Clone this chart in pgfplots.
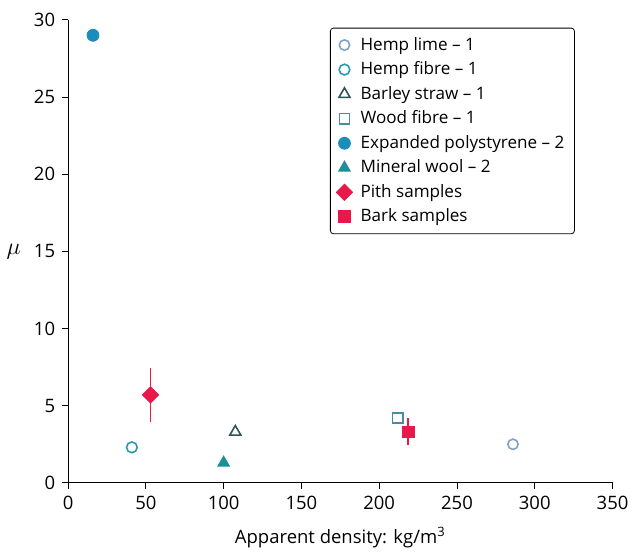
\documentclass[border=0pt]{standalone}
\usepackage{pgfplots}
\pgfplotsset{compat=1.18}
\usepackage{fontspec}
\setmainfont{Open Sans}

\definecolor{hlime}{HTML}{7FA3C6}
\definecolor{hfibre}{HTML}{2A9AAA}
\definecolor{barley}{HTML}{2F5456}
\definecolor{wood}{HTML}{4A8C9E}
\definecolor{eps}{HTML}{1A8DBB}
\definecolor{mwool}{HTML}{1F8E98}
\definecolor{crimson}{HTML}{E8194A}

\begin{document}
\begin{tikzpicture}
  \begin{axis}[
    scale only axis,
    width=274pt, height=233pt,
    xmin=0, xmax=350, ymin=0, ymax=30,
    xtick={0,50,...,350}, ytick={0,5,...,30},
    axis lines*=left,
    tick align=outside,
    tick style={black, thin},
    major tick length=3pt,
    axis line style={black, thin},
    font=\fontsize{9.3}{11}\selectfont,
    /pgf/number format/assume math mode=true,
    xlabel={Apparent density: kg/m\textsuperscript{3}},
    ylabel={\fontsize{12}{14}\selectfont$\mu$},
    ylabel style={rotate=-90, at={(axis description cs:-0.10,0.5)}, anchor=center},
    xlabel style={at={(axis description cs:0.5,-0.08)}, anchor=north},
    clip=false,
    legend style={at={(0.481,0.983)}, anchor=north west, draw=black,
      rounded corners=1.5pt, font=\fontsize{8.6}{10}\selectfont,
      row sep=0.3pt, inner xsep=3pt, inner ysep=2.5pt},
    legend cell align=left,
  ]
    \addplot[only marks, mark=o, mark size=2.6pt, color=hlime, thick]
      coordinates {(286,2.5)};
    \addlegendentry{\hspace{2pt}Hemp lime -- 1}
    \addplot[only marks, mark=o, mark size=2.7pt, color=hfibre, thick]
      coordinates {(41,2.3)};
    \addlegendentry{\hspace{2pt}Hemp fibre -- 1}
    \addplot[only marks, mark=triangle, mark size=3.2pt, color=barley, thick]
      coordinates {(107.5,3.3)};
    \addlegendentry{\hspace{2pt}Barley straw -- 1}
    \addplot[only marks, mark=square, mark size=2.6pt, color=wood, thick]
      coordinates {(212,4.2)};
    \addlegendentry{\hspace{2pt}Wood fibre -- 1}
    \addplot[only marks, mark=*, mark size=3pt, color=eps]
      coordinates {(16,29)};
    \addlegendentry{\hspace{2pt}Expanded polystyrene -- 2}
    \addplot[only marks, mark=triangle*, mark size=3.4pt, color=mwool]
      coordinates {(100,1.3)};
    \addlegendentry{\hspace{2pt}Mineral wool -- 2}
    \addplot[only marks, mark=square*, mark size=2.9pt, color=crimson,
      mark options={rotate=45},
      error bars/.cd, y dir=both, y explicit, error mark=none,
      error bar style={line width=0.9pt, draw=crimson}]
      coordinates {(53,5.7) +- (0,1.73)};
    \addlegendentry{\hspace{2pt}Pith samples}
    \addplot[only marks, mark=square*, mark size=3pt, color=crimson,
      error bars/.cd, y dir=both, y explicit, error mark=none,
      error bar style={line width=0.9pt, draw=crimson}]
      coordinates {(218.5,3.3) +- (0,0.87)};
    \addlegendentry{\hspace{2pt}Bark samples}
    % a little white space above the plot, as in the original
    \path (rel axis cs:0,1) -- ++(0,10pt);
  \end{axis}
\end{tikzpicture}
\end{document}
